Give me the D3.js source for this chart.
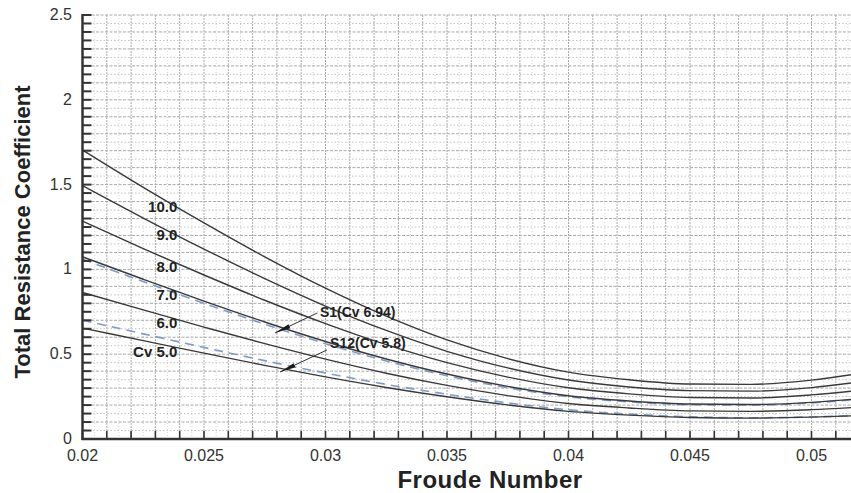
<!DOCTYPE html>
<html>
<head>
<meta charset="utf-8">
<script src="https://cdn.jsdelivr.net/npm/d3@7"></script>
<style>
  body { margin: 0; background: #fff; }
  svg { display: block; font-family: "Liberation Sans", Arial, sans-serif; }
</style>
</head>
<body>
<svg id="chart" width="851" height="493"></svg>
<script>
// Froude number sample points
const froude = [0.02, 0.0225, 0.025, 0.0275, 0.03, 0.0325, 0.035, 0.0375, 0.04, 0.0425, 0.045, 0.0475, 0.05, 0.052];

// total resistance coefficient, one curve per Cv
const cv5  = [0.654, 0.58, 0.506, 0.434, 0.366, 0.304, 0.249, 0.201, 0.163, 0.141, 0.127, 0.123, 0.129, 0.138];
const cv6  = [0.864, 0.761, 0.66, 0.562, 0.471, 0.388, 0.316, 0.256, 0.209, 0.183, 0.166, 0.163, 0.173, 0.188];
const cv7  = [1.074, 0.942, 0.813, 0.69, 0.575, 0.472, 0.383, 0.31, 0.255, 0.224, 0.206, 0.203, 0.216, 0.238];
const cv8  = [1.284, 1.122, 0.967, 0.818, 0.68, 0.556, 0.45, 0.365, 0.302, 0.266, 0.245, 0.242, 0.26, 0.287];
const cv9  = [1.494, 1.303, 1.12, 0.946, 0.784, 0.64, 0.517, 0.419, 0.348, 0.307, 0.285, 0.282, 0.303, 0.337];
const cv10 = [1.704, 1.484, 1.274, 1.074, 0.889, 0.724, 0.584, 0.474, 0.394, 0.349, 0.324, 0.322, 0.347, 0.387];

// measured hulls (dashed)
const s1  = [1.06, 0.928, 0.8, 0.677, 0.562, 0.46, 0.373, 0.302, 0.249, 0.219, 0.202, 0.199, 0.213, 0.235];
const s12 = [0.70, 0.62, 0.54, 0.462, 0.389, 0.322, 0.264, 0.213, 0.172, 0.147, 0.131, 0.125, 0.13, 0.139];

const curveNames = ["Cv 5.0", "6.0", "7.0", "8.0", "9.0", "10.0"];
// label positions (data coords: right end x, baseline y)
const labelFr = [0.0239, 0.0239, 0.0239, 0.0239, 0.0239, 0.0239];
const labelCt = [0.483, 0.655, 0.82, 0.985, 1.173, 1.34];

const xTicks = [0.02, 0.025, 0.03, 0.035, 0.04, 0.045, 0.05];
const yTicks = [0, 0.5, 1, 1.5, 2, 2.5];

// annotations: label, label pos, pointer start, pointer tip
const notes = [
  { text: "S1(Cv 6.94)", lx: 0.02977, ly: 0.72, x1: 0.02966, y1: 0.743, x2: 0.02792, y2: 0.625 },
  { text: "S12(Cv 5.8)", lx: 0.03019, ly: 0.537, x1: 0.03006, y1: 0.525, x2: 0.02813, y2: 0.395 }
];

const W = 851, H = 493;
const svg = d3.select("#chart");

const x = d3.scaleLinear().domain([0.02, 0.05]).range([82.5, 811.5]);
const y = d3.scaleLinear().domain([0, 2.5]).range([439, 15]);
const xMax = x.invert(W);

svg.append("defs").append("clipPath").attr("id", "plot")
  .append("rect").attr("x", x(0.02)).attr("y", y(2.5) - 1)
  .attr("width", W - x(0.02)).attr("height", y(0) - y(2.5) + 1);

// pointer head: short thick wedge
svg.select("defs").append("marker")
  .attr("id", "arr").attr("viewBox", "0 0 16 6").attr("refX", 16).attr("refY", 3)
  .attr("markerUnits", "userSpaceOnUse").attr("markerWidth", 16).attr("markerHeight", 6)
  .attr("orient", "auto")
  .append("path").attr("d", "M0,0.8 L16,3 L0,5.2 Z").attr("fill", "#1a1a1a");

const grid = svg.append("g").attr("clip-path", "url(#plot)");

// 0.0005 fine verticals
grid.selectAll(".vf").data(d3.range(0.0205, xMax, 0.001)).enter().append("line")
  .attr("x1", d => x(d)).attr("x2", d => x(d)).attr("y1", y(2.5)).attr("y2", y(0))
  .attr("stroke", "#d6d6d6").attr("stroke-width", 1).attr("stroke-dasharray", "1,2");
grid.selectAll(".vg").data(d3.range(0.021, xMax, 0.001)).enter().append("line")
  .attr("x1", d => x(d)).attr("x2", d => x(d)).attr("y1", y(2.5)).attr("y2", y(0))
  .attr("stroke", "#a8a8a8").attr("stroke-width", 1).attr("stroke-dasharray", "2,1");
grid.selectAll(".hg").data(d3.range(1, 51).map(i => i * 0.05)).enter().append("line")
  .attr("x1", x(0.02)).attr("x2", W).attr("y1", d => y(d)).attr("y2", d => y(d))
  .attr("stroke", (d, i) => i % 2 ? "#a8a8a8" : "#c2c2c2").attr("stroke-width", 1)
  .attr("stroke-dasharray", (d, i) => i % 2 ? "3,1.5" : "1.5,2");

// curves
const line = d3.line().x((d, i) => x(froude[i])).y(d => y(d)).curve(d3.curveMonotoneX);
const plot = svg.append("g").attr("clip-path", "url(#plot)");
[s1, s12].forEach(s => {
  plot.append("path").attr("d", line(s)).attr("fill", "none")
    .attr("stroke", "#7f9cc8").attr("stroke-width", 1.6).attr("stroke-dasharray", "9,6");
});
[cv5, cv6, cv7, cv8, cv9, cv10].forEach(s => {
  plot.append("path").attr("d", line(s)).attr("fill", "none")
    .attr("stroke", "#3a3a3a").attr("stroke-width", 1.4);
});

// axes
const ax = svg.append("g");
ax.selectAll(".ty").data(d3.range(0, 51).map(i => i * 0.05)).enter().append("line")
  .attr("x1", x(0.02)).attr("x2", x(0.02) + 9).attr("y1", d => y(d)).attr("y2", d => y(d))
  .attr("stroke", "#333").attr("stroke-width", 2);
ax.selectAll(".tx").data(d3.range(0, 32).map(i => 0.02 + i * 0.001)).enter().append("line")
  .attr("x1", d => x(d)).attr("x2", d => x(d)).attr("y1", y(0)).attr("y2", y(0) - 8)
  .attr("stroke", "#333").attr("stroke-width", 1.6);
ax.append("line").attr("x1", x(0.02)).attr("x2", x(0.02)).attr("y1", y(2.5) - 1).attr("y2", y(0) + 1)
  .attr("stroke", "#333").attr("stroke-width", 2.5);
ax.append("line").attr("x1", x(0.02) - 1).attr("x2", W).attr("y1", y(0)).attr("y2", y(0))
  .attr("stroke", "#333").attr("stroke-width", 2.5);

ax.selectAll(".lx").data(xTicks).enter().append("text")
  .attr("x", d => x(d)).attr("y", 461).attr("text-anchor", "middle")
  .attr("font-size", 16).attr("fill", "#333").text(d => d);
ax.selectAll(".ly").data(yTicks).enter().append("text")
  .attr("x", 72).attr("y", d => y(d) + 5).attr("text-anchor", "end")
  .attr("font-size", 16).attr("fill", "#333").text(d => d);

svg.append("text").attr("x", 490).attr("y", 488).attr("text-anchor", "middle")
  .attr("font-size", 24).attr("letter-spacing", 0.5).attr("font-weight", "bold")
  .attr("fill", "#222").text("Froude Number");
svg.append("text").attr("transform", "translate(30,232) rotate(-90)").attr("text-anchor", "middle")
  .attr("font-size", 22).attr("font-weight", "bold").attr("fill", "#222").text("Total Resistance Coefficient");

// curve labels
svg.selectAll(".cl").data(curveNames).enter().append("text")
  .attr("x", (d, i) => x(labelFr[i])).attr("y", (d, i) => y(labelCt[i]))
  .attr("text-anchor", "end").attr("font-size", 15).attr("font-weight", "bold")
  .attr("fill", "#222").text(d => d);

// annotations
notes.forEach(n => {
  svg.append("line").attr("x1", x(n.x1)).attr("y1", y(n.y1)).attr("x2", x(n.x2)).attr("y2", y(n.y2))
    .attr("stroke", "#333").attr("stroke-width", 1).attr("marker-end", "url(#arr)");
  svg.append("text").attr("x", x(n.lx)).attr("y", y(n.ly)).attr("font-size", 14)
    .attr("font-weight", "bold").attr("fill", "#222").text(n.text);
});
</script>
</body>
</html>
